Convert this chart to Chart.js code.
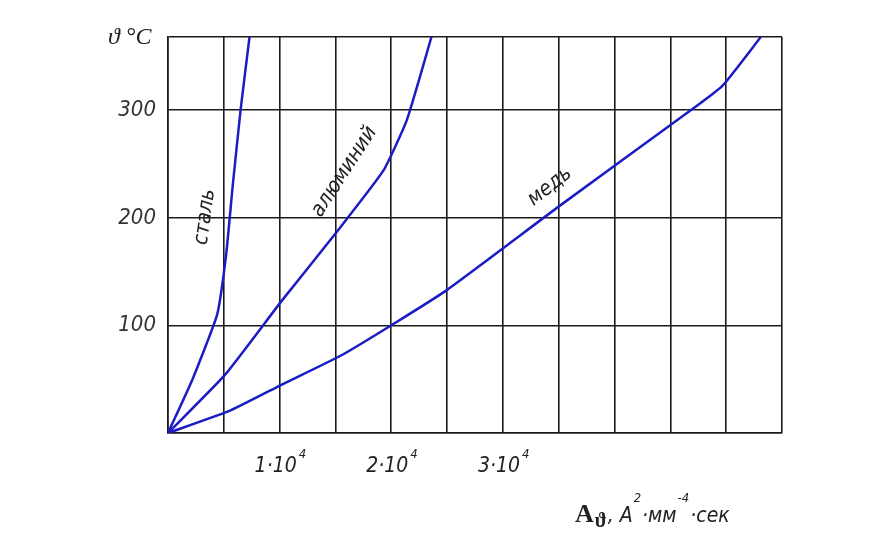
<!DOCTYPE html>
<html><head><meta charset="utf-8">
<script src="https://cdn.jsdelivr.net/npm/chart.js@4"></script>
<style>html,body{margin:0;padding:0;background:#fff}#w{width:896px;height:533px}</style>
</head><body><div id="w"><canvas id="c"></canvas></div>
<script>
// x in units of 10^4 A²·мм⁻⁴·сек, y in °C
const steelX = [0, 0.22, 0.44, 0.52, 0.58, 0.65, 0.73];
const steelY = [0, 50, 110, 165, 230, 300, 368];
const alumX = [0, 0.51, 1.02, 1.52, 1.93, 2.14, 2.36];
const alumY = [0, 54, 123, 188, 244, 291, 368];
const copperX = [0, 0.56, 1.02, 1.55, 2.03, 2.5, 3.52, 4.75, 4.97, 5.31];
const copperY = [0, 21, 45, 72, 102, 133, 212, 305, 323, 368];
const xTickLabels = [1, 2, 3];
const yTickLabels = [100, 200, 300];
const curveLabels = [
  {text:'сталь', x:0.38, y:200, angle:-82},
  {text:'алюминий', x:1.62, y:240, angle:-57},
  {text:'медь', x:3.45, y:225, angle:-38}
];
const pts=(xs,ys)=>xs.map((x,i)=>({x, y:ys[i]}));
const FONT='italic 21px "DejaVu Sans Condensed", sans-serif';
const SUP='italic 13px "DejaVu Sans Condensed", sans-serif';
const deco={id:'deco',afterDraw(ch){
  const {ctx,scales:{x,y}}=ch;
  ctx.save();
  ctx.fillStyle='#222';
  ctx.textBaseline='alphabetic';
  xTickLabels.forEach(v=>{
    const px=x.getPixelForValue(v);
    ctx.font=FONT;ctx.textAlign='left';
    const t=v+'·10', w=ctx.measureText(t).width;
    const x0=px-w/2-4;
    ctx.fillText(t,x0,472);
    ctx.font=SUP;
    ctx.fillText('4',x0+w+2,458);
  });
  curveLabels.forEach(l=>{
    ctx.save();
    ctx.translate(x.getPixelForValue(l.x),y.getPixelForValue(l.y));
    ctx.rotate(l.angle*Math.PI/180);
    ctx.font=FONT;ctx.textAlign='center';ctx.fillStyle='#222';
    ctx.fillText(l.text,0,0);
    ctx.restore();
  });
  ctx.textAlign='left';
  ctx.font='italic 24px "Liberation Serif", serif';
  ctx.fillText('ϑ °C',108,44);
  // axis title
  let cx=575;
  const put=(t,f,dy)=>{ctx.font=f;ctx.fillText(t,cx,522+dy);cx+=ctx.measureText(t).width+1;};
  put('A','bold 26px "Liberation Serif", serif',0);
  put('ϑ','bold 20px "Liberation Serif", serif',5);
  put(', A',FONT,0);
  put('2',SUP,-20);
  put('·мм',FONT,0);
  put('-4',SUP,-20);
  put('·сек',FONT,0);
  ctx.restore();
}};
const ds=(d)=>({data:d,borderColor:'#1c1cc4',borderWidth:2.5,pointRadius:0,tension:0.15,fill:false});
new Chart(document.getElementById('c'),{
  type:'line',
  data:{datasets:[ds(pts(steelX,steelY)),ds(pts(alumX,alumY)),ds(pts(copperX,copperY))]},
  options:{responsive:true,maintainAspectRatio:false,animation:false,
    layout:{padding:{left:0,right:114,top:37,bottom:0}},
    plugins:{legend:{display:false},tooltip:{enabled:false}},
    scales:{
      x:{type:'linear',min:0,max:5.5,
        afterBuildTicks(s){s.ticks=[];for(let i=0;i<=11;i++)s.ticks.push({value:i*0.5});},
        afterFit(s){s.height=100;},
        ticks:{display:false},
        grid:{color:'#1a1a1a',lineWidth:1.6,drawTicks:false},
        border:{color:'#1a1a1a',width:1.6}},
      y:{type:'linear',min:0,max:368,
        afterBuildTicks(s){s.ticks=[0,...yTickLabels,368].map(v=>({value:v}));},
        afterFit(s){s.width=168;},
        ticks:{padding:12,color:'#333',font:{family:'"DejaVu Sans Condensed", sans-serif',style:'italic',size:22},
          callback:v=>yTickLabels.includes(v)?String(v):''},
        grid:{color:'#1a1a1a',lineWidth:1.6,drawTicks:false},
        border:{color:'#1a1a1a',width:1.6}}
    }},
  plugins:[deco]
});
</script></body></html>
